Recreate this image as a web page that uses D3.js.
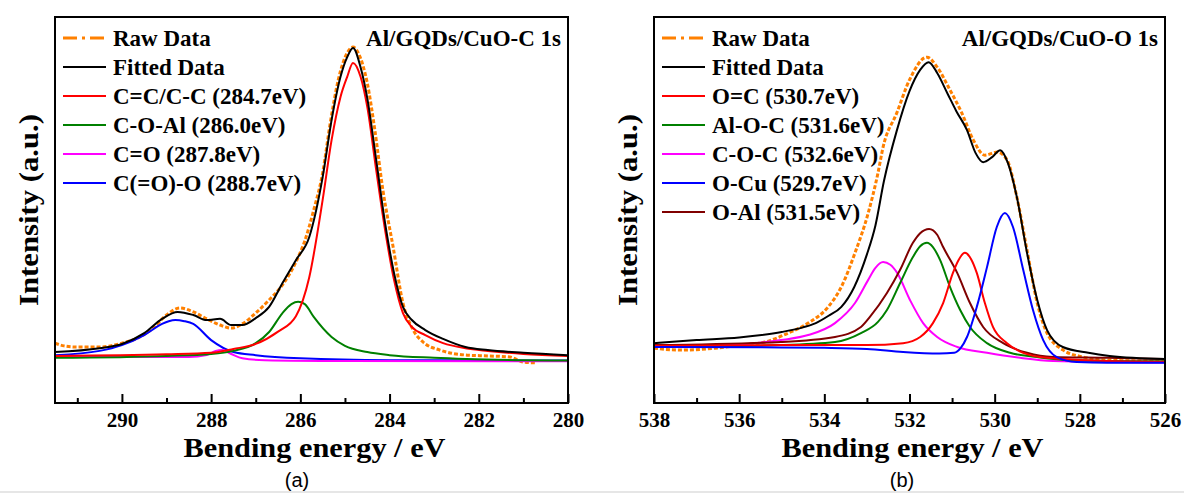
<!DOCTYPE html>
<html><head><meta charset="utf-8">
<script src="https://cdn.jsdelivr.net/npm/d3@7"></script>
<style>body{margin:0;background:#fff}svg{display:block}</style>
</head><body>
<script>
// ---------- Panel (a) : C 1s ----------
const aTicks = [290, 288, 286, 284, 282, 280];
const aMinor = [291, 289, 287, 285, 283, 281];
const aLegend = ["Raw Data", "Fitted Data", "C=C/C-C (284.7eV)", "C-O-Al (286.0eV)", "C=O (287.8eV)", "C(=O)-O (288.7eV)"];
const aTitle = "Al/GQDs/CuO-C 1s";
const aRaw = [[291.5,15.5],[291.3,14.8],[291.0,14.5],[290.5,14.5],[290.0,15.5],[289.6,17.1],[289.3,19.4],[289.0,22.8],[288.7,24.6],[288.4,23.6],[288.1,21.8],[287.8,20.2],[287.55,19.4],[287.3,20.5],[287.0,23.3],[286.7,26.7],[286.4,30.6],[286.1,36.5],[285.9,42.0],[285.7,50.0],[285.5,59.6],[285.33,72.5],[285.15,83.7],[284.95,90.7],[284.82,92.2],[284.66,89.6],[284.5,82.9],[284.33,70.7],[284.15,55.2],[283.92,40.4],[283.7,25.9],[283.47,18.9],[283.25,15.8],[282.87,13.7],[282.26,12.4],[281.8,12.2],[281.3,11.9],[281.0,10.6],[280.7,10.4]];
const aFit = [[291.5,13.2],[290.5,14.2],[290.0,15.3],[289.5,18.1],[289.1,21.8],[288.75,23.6],[288.4,22.8],[288.1,21.5],[287.8,21.8],[287.55,20.2],[287.3,20.2],[287.0,22.0],[286.7,24.9],[286.4,31.1],[286.1,37.0],[285.8,43.0],[285.5,58.5],[285.3,73.3],[285.1,84.5],[284.95,89.6],[284.82,92.0],[284.65,87.0],[284.5,79.0],[284.3,63.0],[284.1,46.6],[283.9,33.7],[283.7,24.9],[283.5,21.5],[283.2,18.9],[282.8,16.6],[282.3,14.5],[281.8,13.7],[281.0,13.0],[280.0,12.4]];
const aCC = [[291.5,12.2],[289.0,12.6],[288.0,13.0],[287.5,14.0],[287.0,15.3],[286.5,18.5],[286.1,22.5],[285.8,32.6],[285.5,52.6],[285.3,68.1],[285.1,79.3],[284.95,84.5],[284.82,88.1],[284.65,84.5],[284.5,76.7],[284.3,60.4],[284.1,44.8],[283.9,31.9],[283.7,23.3],[283.5,19.7],[283.2,17.6],[282.8,15.5],[282.3,14.2],[281.8,13.5],[281.0,12.7],[280.0,12.2]];
const aCOAl = [[291.5,11.7],[289.0,12.2],[288.0,12.7],[287.5,13.5],[287.0,15.5],[286.7,18.4],[286.4,23.3],[286.2,25.6],[286.05,26.2],[285.9,25.6],[285.7,22.3],[285.3,17.1],[285.0,14.8],[284.5,13.2],[284.0,12.4],[283.0,11.7],[281.0,11.1],[280.0,11.0]];
const aCO = [[291.5,11.9],[288.5,11.9],[288.1,12.4],[287.9,13.5],[287.75,13.7],[287.55,12.7],[287.3,11.6],[286.8,11.1],[285.0,10.9],[280.0,10.8]];
const aCOO = [[291.5,12.4],[290.5,13.5],[290.0,15.0],[289.5,17.6],[289.1,20.5],[288.95,21.2],[288.8,21.5],[288.6,21.2],[288.4,20.5],[288.0,16.3],[287.5,13.2],[287.0,12.4],[286.0,11.6],[284.0,11.1],[280.0,11.0]];

// ---------- Panel (b) : O 1s ----------
const bTicks = [538, 536, 534, 532, 530, 528, 526];
const bMinor = [537, 535, 533, 531, 529, 527];
const bLegend = ["Raw Data", "Fitted Data", "O=C (530.7eV)", "Al-O-C (531.6eV)", "C-O-C (532.6eV)", "O-Cu (529.7eV)", "O-Al (531.5eV)"];
const bTitle = "Al/GQDs/CuO-O 1s";
const bRaw = [[538.0,14.2],[537.37,13.7],[536.57,14.2],[535.96,15.0],[535.39,15.8],[534.85,18.1],[534.38,20.7],[533.91,24.9],[533.6,30.1],[533.28,38.9],[532.97,49.2],[532.74,59.6],[532.62,66.3],[532.3,75.1],[532.0,83.7],[531.59,89.6],[531.35,87.0],[531.05,81.1],[530.77,75.1],[530.5,68.1],[530.23,64.2],[529.94,65.0],[529.71,63.0],[529.48,53.4],[529.24,39.6],[529.0,25.9],[528.77,18.1],[528.39,13.7],[527.92,11.9],[527.36,11.1],[526.0,10.8]];
const bFit = [[538.0,15.5],[537.0,16.3],[536.0,17.0],[535.0,18.4],[534.5,19.6],[534.2,20.7],[533.9,22.6],[533.6,24.9],[533.3,30.0],[533.0,38.5],[532.8,46.0],[532.6,57.5],[532.3,70.5],[532.0,80.8],[531.75,86.3],[531.55,88.3],[531.35,85.5],[531.1,80.0],[530.9,75.6],[530.65,70.7],[530.45,64.8],[530.27,62.4],[530.06,63.7],[529.87,65.5],[529.69,62.2],[529.48,53.4],[529.24,38.9],[529.0,26.7],[528.77,18.9],[528.4,14.5],[527.8,13.0],[527.3,12.2],[526.0,11.4]];
const bOC = [[538.0,14.8],[535.0,15.0],[533.0,15.0],[532.15,15.5],[531.75,17.1],[531.45,20.7],[531.21,25.9],[530.98,33.7],[530.85,37.0],[530.7,38.9],[530.55,37.2],[530.42,33.7],[530.23,25.9],[530.04,19.7],[529.71,15.5],[529.33,13.0],[528.77,11.7],[527.36,10.9],[526.0,10.7]];
const bAlOC = [[538.0,14.5],[535.02,15.0],[533.75,15.8],[533.14,18.1],[532.74,21.0],[532.53,24.1],[532.22,31.1],[531.92,37.8],[531.75,40.6],[531.59,41.5],[531.45,40.4],[531.28,37.0],[531.05,30.1],[530.81,24.1],[530.58,19.7],[530.18,15.5],[529.64,13.0],[529.0,11.9],[528.23,11.1],[526.0,10.8]];
const bCOC = [[538.0,14.5],[536.19,15.0],[535.02,16.3],[534.38,17.6],[533.75,20.7],[533.28,25.9],[532.97,31.9],[532.8,35.0],[532.62,36.5],[532.45,35.8],[532.29,33.7],[531.99,26.7],[531.68,20.7],[531.35,17.1],[530.88,14.5],[530.18,13.0],[529.4,11.7],[528.63,10.9],[526.0,10.5]];
const bOCu = [[538.0,14.5],[535.0,14.4],[534.0,14.3],[533.0,14.0],[532.15,13.2],[531.3,12.8],[530.95,13.0],[530.8,14.2],[530.65,17.1],[530.42,24.9],[530.18,35.2],[529.95,45.6],[529.76,49.2],[529.57,45.6],[529.33,34.5],[529.1,24.1],[528.86,16.3],[528.54,11.9],[528.07,10.6],[527.36,10.4],[526.0,10.4]];
const bOAl = [[538.0,15.0],[535.02,15.8],[533.75,17.1],[533.14,19.7],[532.93,22.3],[532.53,28.5],[532.22,34.5],[531.92,41.5],[531.75,44.0],[531.54,45.1],[531.35,43.6],[531.21,40.4],[530.88,33.7],[530.58,25.9],[530.27,19.7],[529.8,15.5],[529.24,13.0],[528.63,11.9],[527.36,11.7],[526.0,11.4]];

const C = {orange:"#ff8000", black:"#000", red:"#ff0000", green:"#008000", magenta:"#ff00ff", blue:"#0000ff", brown:"#800000"};
const SERIF = "'Liberation Serif','Times New Roman',serif";

const W = 1184, H = 493;
const svg = d3.select("body").append("svg").attr("width", W).attr("height", H);
svg.append("rect").attr("x",0).attr("y",0).attr("width",W).attr("height",H).attr("fill","#fff");
svg.append("rect").attr("x",0).attr("y",491).attr("width",W).attr("height",2).attr("fill","#e6e6e6");

function panel(o) {
  const x = d3.scaleLinear().domain(o.domain).range([o.left, o.right]);
  const y = d3.scaleLinear().domain([0, 100]).range([o.bottom, o.top]);
  const g = svg.append("g");
  const cid = "clip" + o.id;
  svg.append("defs").append("clipPath").attr("id", cid).append("rect")
    .attr("x", o.left).attr("y", o.top).attr("width", o.right - o.left).attr("height", o.bottom - o.top);
  const line = d3.line().x(d => x(d[0])).y(d => y(d[1])).curve(d3.curveMonotoneX);
  const plot = g.append("g").attr("clip-path", `url(#${cid})`);
  o.series.forEach(s => {
    plot.append("path").datum(s.data).attr("d", line).attr("fill", "none")
      .attr("stroke", s.color).attr("stroke-width", s.w || 2)
      .attr("stroke-dasharray", s.dash || null).attr("stroke-linejoin","round");
  });
  const ax = g.append("g").attr("transform", `translate(0,${o.bottom})`)
    .call(d3.axisBottom(x).tickValues(o.ticks).tickSizeInner(-9).tickSizeOuter(0).tickPadding(9).tickFormat(d3.format("d")));
  ax.select(".domain").remove();
  ax.selectAll(".tick line").attr("stroke", "#000").attr("stroke-width", 2);
  ax.selectAll(".tick text").attr("font-family", SERIF).attr("font-weight", "bold").attr("font-size", 21).attr("fill", "#000");
  const mx = g.append("g").attr("transform", `translate(0,${o.bottom})`)
    .call(d3.axisBottom(x).tickValues(o.minor).tickSizeInner(-5).tickSizeOuter(0).tickFormat(""));
  mx.select(".domain").remove();
  mx.selectAll(".tick line").attr("stroke", "#000").attr("stroke-width", 2);
  g.append("rect").attr("x", o.left).attr("y", o.top).attr("width", o.right - o.left).attr("height", o.bottom - o.top)
    .attr("fill", "none").attr("stroke", "#000").attr("stroke-width", 2);
  const lg = g.append("g");
  o.legend.forEach((t, i) => {
    const s = o.legendSeries[i];
    const yy = o.top + 21 + i * 29;
    lg.append("line").attr("x1", o.left + 8).attr("x2", o.left + 51).attr("y1", yy).attr("y2", yy)
      .attr("stroke", s.color).attr("stroke-width", s.lw || 2).attr("stroke-dasharray", s.ldash || null);
    lg.append("text").attr("x", o.left + 58).attr("y", yy).attr("dy", "0.35em")
      .attr("font-family", SERIF).attr("font-weight", "bold").attr("font-size", 23).text(t);
  });
  g.append("text").attr("x", o.right - 7).attr("y", o.top + 21).attr("dy", "0.35em").attr("text-anchor", "end")
    .attr("font-family", SERIF).attr("font-weight", "bold").attr("font-size", 23).text(o.title);
  g.append("text").attr("x", (o.left + o.right) / 2 + 3).attr("y", 457).attr("text-anchor", "middle")
    .attr("font-family", SERIF).attr("font-weight", "bold").attr("font-size", 27)
    .attr("textLength", 262).attr("lengthAdjust", "spacingAndGlyphs").text("Bending energy / eV");
  g.append("text").attr("transform", `translate(${o.left - 27},210) rotate(-90)`).attr("text-anchor", "middle").attr("dy", "0.35em")
    .attr("font-family", SERIF).attr("font-weight", "bold").attr("font-size", 28)
    .attr("textLength", 192).attr("lengthAdjust", "spacingAndGlyphs").text("Intensity (a.u.)");
  g.append("text").attr("x", o.labelX).attr("y", 487).attr("text-anchor", "middle")
    .attr("font-family", "'Liberation Sans',Arial,sans-serif").attr("font-size", 20).text(o.label);
}

const rawStyle = {color: C.orange, w: 3, dash: "4,2", lw: 3, ldash: "14,5,3,5"};

panel({
  id: "a", left: 55, right: 568, top: 17, bottom: 403, domain: [291.5, 280],
  ticks: aTicks, minor: aMinor, title: aTitle, legend: aLegend, label: "(a)", labelX: 297,
  series: [
    Object.assign({data: aRaw}, rawStyle),
    {data: aCOO, color: C.blue}, {data: aCO, color: C.magenta}, {data: aCOAl, color: C.green},
    {data: aCC, color: C.red}, {data: aFit, color: C.black}
  ],
  legendSeries: [rawStyle, {color: C.black}, {color: C.red}, {color: C.green}, {color: C.magenta}, {color: C.blue}]
});

panel({
  id: "b", left: 654, right: 1165, top: 17, bottom: 403, domain: [538, 526],
  ticks: bTicks, minor: bMinor, title: bTitle, legend: bLegend, label: "(b)", labelX: 902,
  series: [
    Object.assign({data: bRaw}, rawStyle),
    {data: bCOC, color: C.magenta}, {data: bOAl, color: C.brown}, {data: bAlOC, color: C.green},
    {data: bOC, color: C.red}, {data: bOCu, color: C.blue}, {data: bFit, color: C.black}
  ],
  legendSeries: [rawStyle, {color: C.black}, {color: C.red}, {color: C.green}, {color: C.magenta}, {color: C.blue}, {color: C.brown}]
});
</script>
</body></html>
